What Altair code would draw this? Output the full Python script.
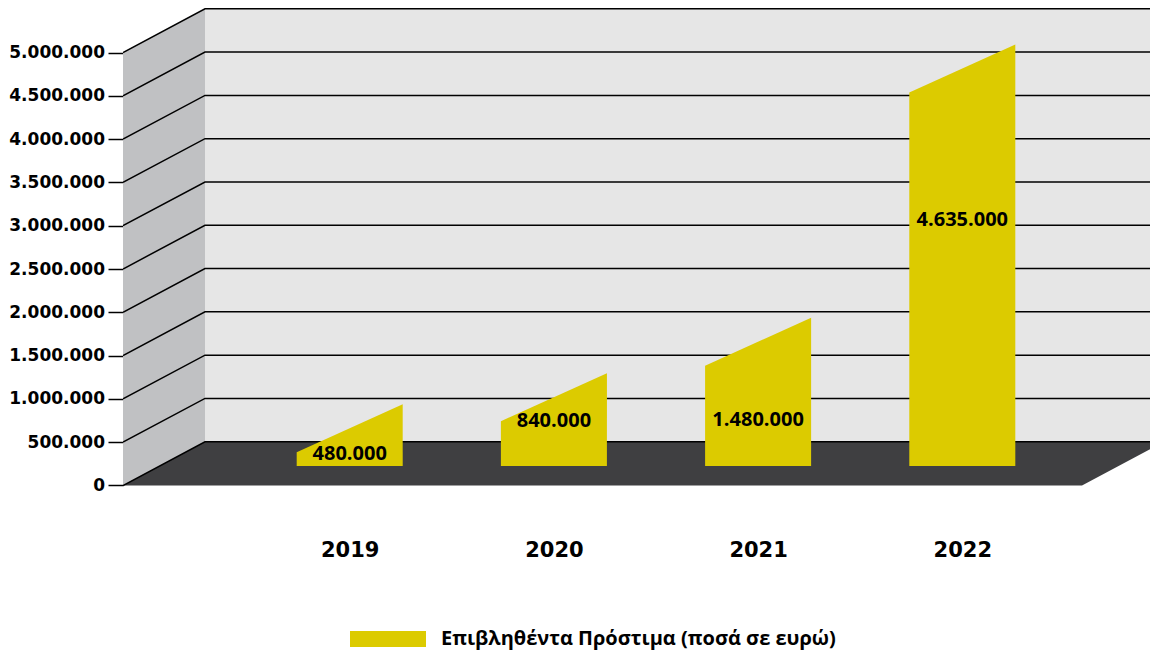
import altair as alt
import pandas as pd

# ---------------- data ----------------
years = ["2019", "2020", "2021", "2022"]
fines = [480000, 840000, 1480000, 4635000]
# value-axis anchor of each bar's value label (as placed in the original)
label_at = [364000, 750000, 755000, 3065000]
tick_values = [0, 500000, 1000000, 1500000, 2000000, 2500000,
               3000000, 3500000, 4000000, 4500000, 5000000]
series_name = "Επιβληθέντα Πρόστιμα (ποσά σε ευρώ)"

# ---------------- pseudo-3D geometry (data units) ----------------
X_MIN, X_MAX = -0.1102, 4.9192      # x scale domain (category units)
Y_MIN, Y_MAX = -514000, 5514000     # y scale domain (value units)
DX = 0.4016            # depth offset along x
DY = 505000            # depth offset along y
TOP = tick_values[-1]
FLOOR_RIGHT = 4.5862   # front-right corner of the floor
FAR = FLOOR_RIGHT + DX
HW = 0.2596            # half bar width
BAR_BASE = 225000
BAR_LIFT = 180000
BAR_RISE = 554000

def fmt(v):
    return f"{v:,}".replace(",", ".")

side = pd.DataFrame({"x": [X_MIN, X_MIN + DX], "y": [TOP, TOP + DY], "y2": [0, DY]})
back = pd.DataFrame({"x": [X_MIN + DX, FAR], "y": [TOP + DY, TOP + DY], "y2": [DY, DY]})
floor = pd.DataFrame({"x": [X_MIN, X_MIN + DX, FLOOR_RIGHT, FAR],
                      "y": [0, DY, DY, DY], "y2": [0, 0, 0, DY]})

grid_rows = []
for v in tick_values:
    grid_rows += [{"g": v, "x": X_MIN, "y": v},
                  {"g": v, "x": X_MIN + DX, "y": v + DY},
                  {"g": v, "x": FAR, "y": v + DY}]
grid = pd.DataFrame(grid_rows)

bar_rows = []
for i, (yr, v) in enumerate(zip(years, fines)):
    c = i + 1
    bar_rows += [{"year": yr, "series": series_name, "x": c - HW,
                  "y": v + BAR_LIFT - BAR_RISE / 2, "y2": BAR_BASE},
                 {"year": yr, "series": series_name, "x": c + HW,
                  "y": v + BAR_LIFT + BAR_RISE / 2, "y2": BAR_BASE}]
bars = pd.DataFrame(bar_rows)

labels = pd.DataFrame({"x": [i + 1 for i in range(len(years))],
                       "y": label_at, "text": [fmt(v) for v in fines]})

# ---------------- scales / axes ----------------
xscale = alt.Scale(domain=[X_MIN, X_MAX], nice=False, zero=False)
yscale = alt.Scale(domain=[Y_MIN, Y_MAX], nice=False, zero=False)

year_expr = "[" + ",".join(f"'{y}'" for y in years) + "][round(datum.value) - 1]"
xaxis = alt.Axis(values=[1, 2, 3, 4], labelExpr=year_expr, title=None,
                 ticks=False, domain=False, grid=False,
                 labelFont="DejaVu Sans", labelFontWeight="bold", labelFontSize=21,
                 labelColor="black", labelPadding=9, labelBaseline="top", labelFlush=False)
yaxis = alt.Axis(values=tick_values, title=None, grid=False, domain=False,
                 labelExpr="replace(replace(format(datum.value, ','), ',', '.'), ',', '.')",
                 tickSize=15, tickColor="black", tickWidth=1.5,
                 labelFont="DejaVu Sans", labelFontWeight="bold", labelFontSize=17,
                 labelColor="black", labelPadding=3.5)

def X(f="x"):
    return alt.X(f"{f}:Q", scale=xscale, axis=xaxis)

def Y(f="y"):
    return alt.Y(f"{f}:Q", scale=yscale, axis=yaxis, stack=None)

side_l = alt.Chart(side).mark_area(color="#c0c1c3", clip=True).encode(
    x=X(), y=Y(), y2="y2:Q")
back_l = alt.Chart(back).mark_area(color="#e6e6e6", clip=True).encode(
    x=X(), y=Y(), y2="y2:Q")
floor_l = alt.Chart(floor).mark_area(color="#3f3f41", clip=True).encode(
    x=X(), y=Y(), y2="y2:Q")
grid_l = alt.Chart(grid).mark_line(color="black", strokeWidth=1.5, clip=True).encode(
    x=X(), y=Y(), detail="g:N")
bar_l = alt.Chart(bars).mark_area(opacity=1, clip=True).encode(
    x=X(), y=Y(), y2="y2:Q", detail="year:N",
    color=alt.Color("series:N",
                    scale=alt.Scale(domain=[series_name], range=["#dccb00"]),
                    legend=alt.Legend(title=None, orient="none", legendX=227, legendY=593,
                                      symbolType="M-1,-0.2105H1V0.2105H-1Z",
                                      symbolSize=5776, symbolStrokeWidth=0,
                                      symbolOpacity=1, labelFont="Open Sans",
                                      labelFontWeight="bold", labelFontSize=20,
                                      labelColor="black", labelLimit=800,
                                      labelOffset=15, padding=0)))
text_l = alt.Chart(labels).mark_text(font="Open Sans", fontWeight="bold", fontSize=20,
                                     color="black", baseline="middle", align="center").encode(
    x=X(), y=Y(), text="text:N")

chart = alt.layer(back_l, side_l, floor_l, grid_l, bar_l, text_l).properties(
    width=1027, height=522,
    padding={"left": 115, "top": 0, "right": 0, "bottom": 120},
    autosize=alt.AutoSizeParams(type="none"),
    background="white",
).configure_view(stroke=None)

chart.save("out.html", embed_options={"renderer": "svg", "actions": False})
